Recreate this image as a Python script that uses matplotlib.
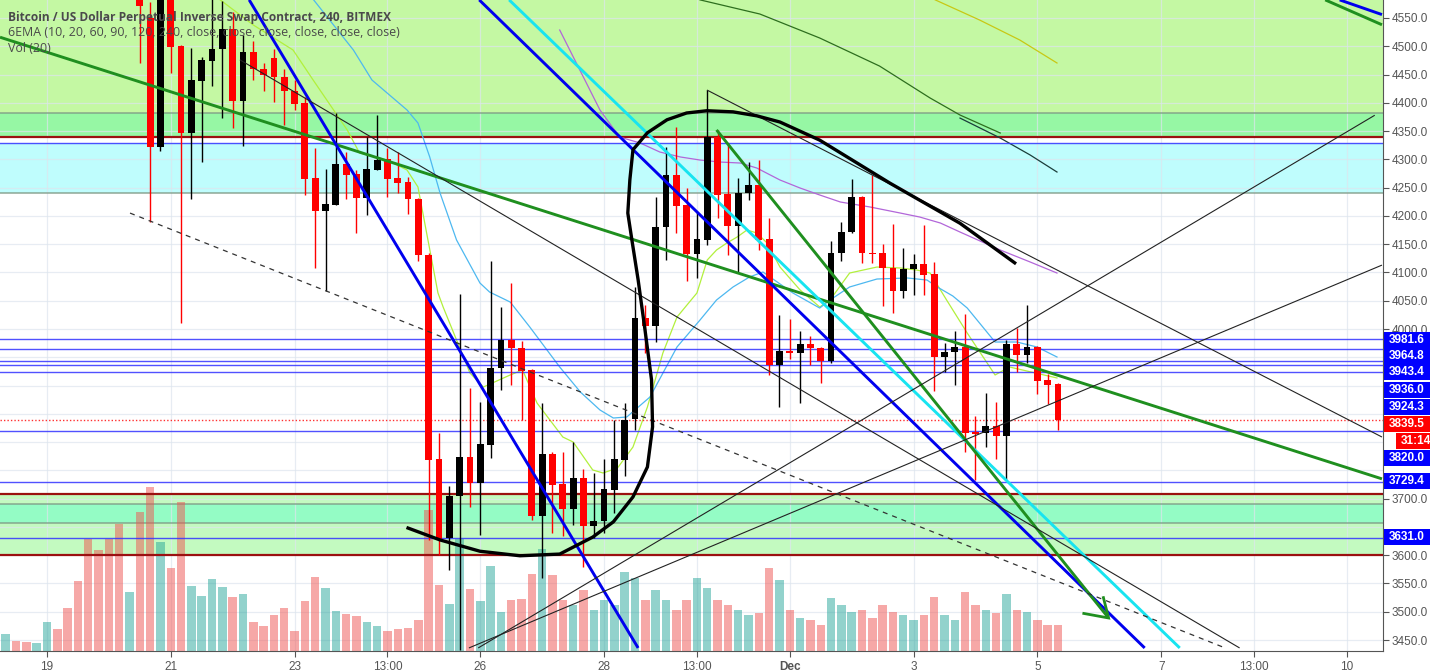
import matplotlib
matplotlib.use("Agg")
import matplotlib.pyplot as plt
import numpy as np

# ---------------- data ----------------
first_bar = 13
opens = [4650, 4550, 4322, 4600, 4500, 4347, 4438, 4474, 4495, 4530, 4403, 4490, 4460, 4480, 4445, 4420,
         4400, 4267, 4209, 4219, 4292, 4274, 4232, 4281, 4300, 4267, 4260, 4230, 4131, 3770, 3630, 3705,
         3774, 3728, 3795, 3931, 3980, 3966, 3927, 3669, 3779, 3726, 3682, 3737, 3652, 3660, 3715, 3768,
         3841, 4019, 4005, 4180, 4272, 4219, 4133, 4157, 4340, 4239, 4182, 4240, 4255, 4159, 3936, 3961,
         3958, 3973, 3966, 3943, 4134, 4172, 4233, 4135, 4134, 4108, 4067, 4106, 4115, 4097, 3950, 3959,
         3968, 3818, 3816, 3828, 3811, 3973, 3954, 3968, 3910, 3903]
highs = [4690, 4578, 4630, 4620, 4502, 4497, 4481, 4590, 4580, 4560, 4520, 4510, 4470, 4495, 4460, 4440,
         4410, 4320, 4283, 4382, 4313, 4281, 4340, 4378, 4320, 4313, 4269, 4232, 4135, 3816, 3722, 4062,
         3896, 3871, 4120, 4039, 4081, 3979, 3930, 3869, 3782, 3782, 3800, 3752, 3745, 3770, 3839, 3869,
         4074, 4042, 4233, 4322, 4357, 4249, 4207, 4423, 4352, 4329, 4267, 4295, 4299, 4196, 4025, 4018,
         3996, 3988, 3968, 4156, 4189, 4265, 4235, 4272, 4150, 4186, 4143, 4133, 4184, 4118, 3975, 3996,
         4027, 3846, 3887, 3871, 3980, 4002, 4042, 3970, 3920, 3905]
lows = [4470, 4189, 4315, 4452, 4011, 4230, 4295, 4430, 4373, 4355, 4324, 4440, 4420, 4401, 4360, 4387,
        4237, 4108, 4067, 4219, 4230, 4170, 4202, 4281, 4233, 4240, 4203, 4120, 3627, 3600, 3574, 3432,
        3685, 3636, 3772, 3892, 3901, 3839, 3662, 3560, 3640, 3634, 3653, 3580, 3630, 3640, 3675, 3740,
        3821, 3958, 3977, 4122, 4170, 4085, 4090, 4149, 4196, 4131, 4101, 4228, 4140, 3919, 3862, 3947,
        3869, 3936, 3905, 3940, 4120, 4170, 4117, 4117, 4041, 4028, 4055, 4060, 4060, 3890, 3924, 3901,
        3782, 3733, 3791, 3770, 3733, 3924, 3940, 3885, 3867, 3821]
closes = [4571, 4322, 4600, 4499, 4347, 4440, 4476, 4495, 4530, 4403, 4490, 4460, 4450, 4445, 4420, 4398,
          4265, 4209, 4221, 4292, 4272, 4232, 4283, 4299, 4265, 4258, 4230, 4131, 3768, 3627, 3705, 3774,
          3728, 3797, 3931, 3980, 3966, 3926, 3669, 3779, 3724, 3682, 3737, 3652, 3660, 3717, 3770, 3839,
          4019, 4005, 4180, 4272, 4217, 4133, 4159, 4340, 4237, 4182, 4240, 4255, 4157, 3936, 3961, 3958,
          3973, 3966, 3943, 4134, 4172, 4233, 4134, 4133, 4108, 4067, 4106, 4115, 4095, 3950, 3959, 3968,
          3816, 3814, 3828, 3811, 3973, 3954, 3968, 3908, 3901, 3839.5]

# volume (bars 0..102) and direction of the hidden early bars 0..12 (1 = up)
volume = [17, 10.5, 9.5, 8, 29, 21.6, 42.6, 70, 112, 101, 112, 127, 59, 139, 164.5, 109.4, 83, 149, 65,
          54.6, 72, 64, 53.6, 57, 29, 25, 36.4, 42.6, 20.5, 50.5, 74.3, 63, 40.5, 37, 35.3, 29, 25, 20,
          21.6, 22.6, 31, 141.4, 66.3, 47.4, 112, 62.2, 50, 84.6, 39.5, 51, 52, 77, 102.5,
          76, 51, 46, 61, 41, 51, 46, 79, 73, 51, 61, 51, 41, 51, 73, 63, 51, 46, 41, 36, 38, 83, 71, 41,
          33, 31, 26, 53, 46, 39, 41, 33, 46, 39, 36, 31, 36, 54, 36, 31, 59, 46, 41, 38, 57, 41, 39, 31,
          26, 26]
early_up = [1, 0, 0, 1, 1, 0, 0, 0, 0, 0, 0, 0, 1]

# EMA lines (bar index, price)
ema10_x = [19.5, 24.0, 27.85, 29.8, 33.1, 34.3, 36.96, 38.9, 39.96, 40.8, 41.9, 42.4, 45.0, 46.3, 48.9,
           50.1, 51.5, 54.0, 55.0, 56.9, 57.9, 59.3, 60.8, 62.2, 63.7, 65.07, 67.0, 68.0, 68.9, 69.9,
           70.9, 71.85, 72.8, 73.8, 75.05, 77.0, 78.9, 79.9, 81.8, 84.45, 86.7, 88.3, 89.6, 91.2, 93.2,
           95.9, 97.3, 101.9]
ema10_p = [4600, 4537.6, 4493.4, 4440.3, 4352, 4311.2, 4298.8, 4281.2, 4251.1, 4169.8, 4063.7, 4038.9,
           3922.2, 3897.4, 3918.7, 3927.5, 3869.1, 3809, 3800.2, 3750.7, 3745.4, 3754.2, 3791.3, 3862.1,
           3957.6, 4021.2, 4063.7, 4122, 4139.7, 4152.1, 4162.7, 4175.1, 4169.8, 4152.1, 4109.6, 4069,
           4038.9, 4051.3, 4099, 4109.6, 4107.9, 4104.3, 4099, 4051.3, 3992.9, 3918.7, 3932.8, 3913.4]
ema20_x = [29.5, 33.7, 35.5, 38.9, 39.96, 41.1, 42.1, 43.7, 45.97, 46.9, 48.9, 50.8, 53.7, 55.7, 57.6,
           58.9, 60.2, 62.45, 65.07, 67.3, 68.9, 70.5, 72.1, 73.4, 76.3, 78.9, 79.9, 81.8, 84.45, 87.4,
           89.3, 90.3, 91.8, 93.2, 95.9, 98.0, 99.96, 101.9]
ema20_p = [4590, 4493.4, 4440.3, 4387.3, 4364.3, 4304.2, 4240.5, 4157.4, 4081.3, 4065.4, 4047.7, 4003.5,
           3932.8, 3888.6, 3856.8, 3842.6, 3844.4, 3879.8, 3968.2, 4015.9, 4051.3, 4074.3, 4092, 4100.8,
           4063.7, 4037.1, 4051.3, 4074.3, 4088.4, 4090.2, 4086.6, 4074.3, 4058.4, 4037.1, 3977, 3977,
           3968.2, 3950.5]
ema60_x = [53.7, 57.6, 59.5, 61.5, 63.4, 65.4, 67.3, 69.2, 71.2, 72.8, 75.05, 77.0, 78.9, 80.9, 83.8,
           86.7, 88.6, 90.6, 92.5, 96.4, 99.3, 101.9]
ema60_p = [4528.7, 4387.3, 4339.5, 4328.9, 4313, 4304.2, 4298.8, 4295.3, 4293.5, 4284.7, 4263.5, 4249.3,
           4237, 4224.6, 4215.7, 4205.1, 4198, 4187.4, 4171.5, 4139.7, 4118.5, 4099]
ema90_x = [92.5, 96.4, 99.3, 101.9]
ema90_p = [4373, 4337.7, 4307.7, 4277.6]
ema120_x = [67.3, 73.1, 78.9, 84.7, 89.6, 92.5, 96.4]
ema120_p = [4582, 4557, 4514.6, 4465, 4408.5, 4378.4, 4346.6]
ema240_x = [90.1, 94.4, 98.3, 101.9]
ema240_p = [4582, 4546.4, 4511, 4470.4]

# horizontal price levels
level_prices = [3981.6, 3964.8, 3943.4, 3936.0, 3924.3, 3820.0, 3729.4, 3631.0, 4329.0]
last_price = 3839.5
countdown = "31:14"

# zones (low, high)
zone_top_light = (4382, 4700)
zone_top_mid = (4339.5, 4382)
zone_top_cyan = (4240, 4329)
zone_bot_light = [(3600.4, 3657), (3690, 3709)]
zone_bot_mid = (3657, 3690)
red_levels = [4339.5, 3709, 3600.4]
gray_levels = [4382, 4240, 3690, 3657]

# drawings (bar index, price)
green1 = ([-0.55, 133.4], [4516, 3735])
green2 = ([68.9, 106.9], [4352, 3489])
blue1 = ([23.6, 61.3], [4582, 3436])
blue2 = ([45.9, 110.4], [4582, 3436])
blue3 = ([129.3, 133.4], [4582, 4556])
green3 = ([127.9, 133.4], [4582, 4538])
cyan1 = ([48.8, 113.8], [4582, 3436])
thinA = ([22.7, 119.6], [4476, 3436])
thinB = ([67.97, 133.4], [4422.6, 3809])
thinC = ([45.8, 132.7], [3436, 4378])
thinD = ([44.9, 133.4], [3436, 4113])
dashed = ([12.05, 118.2], [4205, 3436])
curve_x = [39.0, 42.1, 45.97, 49.85, 53.7, 56.9, 58.9, 60.8, 62.2, 62.7, 62.6, 61.97, 61.3, 60.7, 60.3,
           60.5, 60.8, 62.2, 64.1, 66.0, 67.97, 70.5, 72.8, 75.05, 78.9, 85.7, 92.5, 97.8]
curve_p = [3648, 3627, 3607, 3599, 3602, 3632, 3659, 3703, 3756, 3827, 3910, 3998, 4087, 4157, 4205,
           4264, 4317, 4347, 4370, 4382, 4386, 4384, 4377, 4366, 4334, 4258, 4187, 4117]

tick_bars = [4, 16, 28, 37, 46, 58, 67, 76, 88, 100, 112, 121, 130]
tick_labels = ["19", "21", "23", "13:00", "26", "28", "13:00", "Dec", "3", "5", "7", "13:00", "10"]
price_ticks = [3450, 3500, 3550, 3600, 3700, 4000, 4050, 4100, 4150, 4200, 4250, 4300, 4350, 4400,
               4450, 4500, 4550]

# ---------------- figure ----------------
W, H = 1430, 672
fig = plt.figure(figsize=(W / 100, H / 100), dpi=100)
rect = [0, 21 / H, 1383 / W, 651 / H]
XMIN, XMAX = -0.5525, 133.5
YMIN, YMAX = 3430.6, 4581.8

# background axes: zones and grid
bg = fig.add_axes(rect, zorder=0)
bg.set_xlim(XMIN, XMAX); bg.set_ylim(YMIN, YMAX); bg.set_axis_off()
bg.axhspan(*zone_top_light, color="#c4f8a3", lw=0)
bg.axhspan(*zone_top_mid, color="#96f7a4", lw=0)
bg.axhspan(*zone_top_cyan, color="#bffdfd", lw=0)
for z in zone_bot_light:
    bg.axhspan(*z, color="#c3fac0", lw=0)
bg.axhspan(*zone_bot_mid, color="#94fcc5", lw=0)
for tb in tick_bars:
    bg.axvline(tb, color="#dde5ee", lw=0.9, alpha=0.7)
for p in np.arange(3450, 4600, 50):
    bg.axhline(p, color="#dde5ee", lw=0.9, alpha=0.7)
for g in gray_levels:
    bg.axhline(g, color="#7f9a86", lw=1.2, alpha=0.8)

# volume axes
vax = fig.add_axes(rect, zorder=1)
vax.set_xlim(XMIN, XMAX); vax.set_ylim(0, 651); vax.set_axis_off()
n_all = len(volume)
vol_up = list(early_up) + [1 if cc >= oo else 0 for oo, cc in zip(opens, closes)]
vcols = ["#26a69a" if u else "#ef5350" for u in vol_up[:n_all]]
vax.bar(np.arange(n_all), volume, width=0.82, color=vcols, alpha=0.5, lw=0)

# main price axes
ax = fig.add_axes(rect, zorder=2)
ax.set_xlim(XMIN, XMAX); ax.set_ylim(YMIN, YMAX)
ax.patch.set_visible(False)

for r in red_levels:
    ax.axhline(r, color="#9b1010", lw=1.6, zorder=1.2)

# EMA lines
ax.plot(ema10_x, ema10_p, color="#b2f03c", lw=0.9, zorder=2)
ax.plot(ema20_x, ema20_p, color="#4db8f0", lw=0.9, zorder=2)
ax.plot(ema60_x, ema60_p, color="#b266d9", lw=0.9, zorder=2)
ax.plot(ema90_x, ema90_p, color="#1a3d3a", lw=0.9, zorder=2)
ax.plot(ema120_x, ema120_p, color="#2d6e1e", lw=0.9, zorder=2)
ax.plot(ema240_x, ema240_p, color="#c8c814", lw=0.9, zorder=2)

# horizontal levels
for lp in level_prices:
    ax.axhline(lp, color="#3333ff", lw=1.0, alpha=0.85, zorder=2.5)
ax.axhline(last_price, color="#ff3030", lw=1.0, ls=(0, (1, 1.5)), zorder=2.5)

# candles
bx = np.arange(first_bar, first_bar + len(opens))
o = np.array(opens, float); c = np.array(closes, float)
h = np.array(highs, float); l = np.array(lows, float)
up = c >= o
ccol = np.where(up, "#000000", "#ff0000")
ax.vlines(bx, l, h, colors=ccol, lw=1.0, zorder=3)
bot = np.minimum(o, c)
hei = np.maximum(np.abs(c - o), 2.2)
ax.bar(bx, hei, bottom=bot, width=0.66, color=ccol, lw=0, zorder=3.2)

# drawings
def seg(d, **kw):
    ax.plot(d[0], d[1], solid_capstyle="butt", **kw)

GREEN = "#1f8f1f"
seg(green1, color=GREEN, lw=2.1, zorder=4)
seg(green3, color=GREEN, lw=2.1, zorder=4)
seg(blue1, color="#0000ee", lw=2.1, zorder=4)
seg(blue2, color="#0000ee", lw=2.1, zorder=4)
seg(blue3, color="#0000ee", lw=2.1, zorder=4)
seg(cyan1, color="#18e4f0", lw=2.1, zorder=4)
seg(green2, color=GREEN, lw=2.1, zorder=4)
tipx, tipy = green2[0][1], green2[1][1]
ax.plot([tipx - 2.4, tipx, tipx - 0.5], [tipy + 8, tipy, tipy + 36], color=GREEN, lw=2.0,
        zorder=4, solid_joinstyle="miter")
for d in (thinA, thinB, thinC, thinD):
    seg(d, color="#222222", lw=0.8, zorder=4)
ax.plot(dashed[0], dashed[1], color="#333333", lw=0.9, ls=(0, (4, 4)), zorder=4)
ax.plot(curve_x, curve_p, color="#000000", lw=2.4, zorder=4.5, solid_joinstyle="round")

# axes styling
for s in ["top", "left"]:
    ax.spines[s].set_visible(False)
ax.spines["right"].set_color("#555555")
ax.spines["bottom"].set_color("#555555")
ax.yaxis.tick_right()
ax.set_yticks(price_ticks)
ax.set_yticklabels([f"{v:.1f}" for v in price_ticks])
ax.tick_params(axis="y", direction="out", length=4, color="#555555", labelcolor="#555555",
               labelsize=8.5, pad=2)
ax.set_xticks(tick_bars)
ax.set_xticklabels(tick_labels)
ax.tick_params(axis="x", direction="out", length=4, color="#555555", labelcolor="#555555",
               labelsize=8.5, pad=3)
for t in ax.get_xticklabels() + ax.get_yticklabels():
    t.set_fontfamily("Liberation Sans")
ax.get_xticklabels()[7].set_fontweight("bold")

# right-side price labels (display positions in px from top)
box_labels = [("3981.6", 340, "#0000ff", 0), ("3964.8", 356, "#0000ff", 0), ("3943.4", 372, "#0000ff", 0),
              ("3936.0", 390, "#0000ff", 0), ("3924.3", 407, "#0000ff", 0), ("3839.5", 424, "#ff0000", 0),
              (countdown, 441, "#ff0000", 12), ("3820.0", 458, "#0000ff", 0), ("3729.4", 481, "#0000ff", 0),
              ("3631.0", 537, "#0000ff", 0)]
for txt, ypx, col, dx in box_labels:
    fy = 1 - ypx / H
    fig.patches.append(plt.Rectangle(((1384 + dx) / W, fy - 8 / H), (W - 1384 - dx) / W, 16 / H,
                                     transform=fig.transFigure, facecolor=col, edgecolor="none", zorder=10))
    fig.text((1389 + dx) / W, fy, txt, color="white", fontsize=8.5, fontweight="bold", va="center",
             ha="left", family="Liberation Sans", zorder=11)

# header
fig.text(8 / W, 1 - 17 / H, "Bitcoin / US Dollar Perpetual Inverse Swap Contract, 240, BITMEX",
         fontsize=8.6, fontweight="bold", color="#4a4a4a", va="center", family="Open Sans")
fig.text(8 / W, 1 - 33 / H, "6EMA (10, 20, 60, 90, 120, 240, close, close, close, close, close, close)",
         fontsize=8.9, color="#4a4a4a", va="center", family="Open Sans")
fig.text(8 / W, 1 - 49 / H, "Vol (20)", fontsize=8.9, color="#4a4a4a", va="center", family="Open Sans")

fig.savefig("out.png", dpi=100)
